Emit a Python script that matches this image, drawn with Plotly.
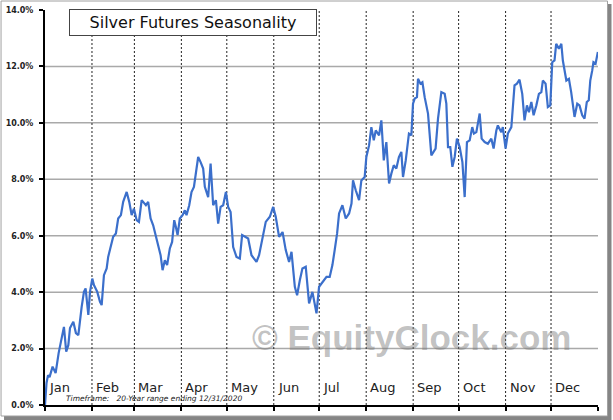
import pandas as pd
import plotly.graph_objects as go

# ---------------- data ----------------
day_offsets = [0, 1, 2, 3, 5, 7, 9, 11, 12.5, 14, 15.4, 16.5, 18.7, 20.4, 22, 24.2, 25.7, 26.8, 28.6, 29.7,
               31.2, 32.3, 34.5, 36.3, 37.4, 38.9, 40.7, 41.7, 43.3, 45, 46.8, 48.3, 50.1, 51.6, 53.9, 55.6,
               57.2, 58.7, 60.5, 62, 63.8, 65.3, 66.6, 68.1, 69.7, 71.4, 73.2, 74.7, 76.3, 77.6, 79.1, 80.6,
               82.4, 83.9, 85.3, 86.4, 87.5, 89, 90.8, 92.3, 93.4, 95.2, 96.7, 98.3, 99.6, 101.1, 102.7, 104.4,
               105.5, 107.7, 109.3, 111, 112.8, 114.3, 115.9, 117.6, 119.4, 120.9, 122.5, 124.2, 126.4, 128.6,
               130.1, 131.9, 134.1, 136.3, 137.8, 139.6, 141.3, 143.6, 145.7, 148.4, 150.6, 152.3, 154.5, 156.8,
               158.9, 161.1, 162.7, 164.9, 166.4, 168.2, 169.9, 172.1, 174.3, 176.5, 179.2, 180.9, 183.5, 185.8,
               187.9, 189.7, 191.2, 192.8, 194.1, 196.3, 198.5, 200.7, 202.3, 203.3, 205.1, 207.3, 208.8, 211,
               212.1, 213.9, 215.4, 217, 218.3, 220.5, 222, 223.6, 225.3, 227.1, 228.6, 230.2, 231.9, 233.6,
               235.2, 236.3, 238.1, 240.2, 241.8, 242.9, 244, 245.5, 246.2, 247.8, 249.1, 250.6, 252.8, 255,
               257.8, 259.4, 261.6, 263.8, 264.9, 266, 267.5, 268.9, 270.4, 271.9, 273.7, 275.5, 277, 278.5,
               280.3, 282, 283.1, 284.7, 286.9, 288.2, 290.2, 292.3, 294.6, 296.1, 297.9, 298.9, 301.2, 302.2,
               304, 305.5, 307.8, 309.9, 311.5, 313.2, 315, 316.5, 318.1, 319.4, 321, 322.5, 324.3, 326,
               327.6, 328.6, 330.4, 331.9, 333.5, 334.8, 336.3, 337.4, 339.2, 340.8, 341.8, 344.1, 345.8, 347.3,
               349.5, 351.3, 352.8, 354.6, 356.1, 357.6, 358.9, 359.9, 361.2, 362, 363.4, 364.9]

seasonal_pct = [0.0, 0.78, 1.06, 0.99, 1.36, 1.13, 1.84, 2.42, 2.77, 1.89, 2.12, 2.73, 2.95, 2.55, 2.48, 3.48,
                4.01, 4.13, 3.19, 4.01, 4.48, 4.25, 4.01, 3.66, 3.54, 4.60, 4.84, 5.25, 5.60, 5.96, 6.08, 6.61,
                6.73, 7.20, 7.55, 7.20, 6.73, 6.96, 6.55, 6.49, 7.26, 7.14, 7.08, 7.20, 6.61, 6.37, 5.96, 5.72,
                5.31, 4.78, 5.13, 4.96, 5.55, 5.78, 6.55, 6.31, 6.02, 6.61, 6.73, 6.90, 6.73, 7.08, 7.55, 7.73,
                8.32, 8.79, 8.61, 8.38, 7.73, 7.37, 8.56, 7.08, 7.26, 6.43, 7.02, 7.08, 7.55, 7.02, 6.84, 5.60,
                5.25, 5.19, 6.02, 5.96, 5.90, 5.31, 5.19, 5.07, 5.31, 5.96, 6.49, 6.67, 7.02, 6.67, 5.96, 6.13,
                5.49, 5.07, 5.43, 4.19, 3.89, 4.42, 4.84, 4.90, 3.60, 4.01, 3.25, 4.19, 4.36, 4.54, 4.54, 4.96,
                5.49, 6.08, 6.79, 7.08, 6.61, 6.79, 7.14, 7.96, 7.61, 7.26, 7.96, 8.08, 8.79, 9.20, 9.85, 9.38,
                9.73, 9.56, 10.09, 8.67, 9.32, 7.85, 8.20, 8.50, 8.38, 8.79, 8.97, 8.08, 8.67, 9.62, 9.56, 10.68,
                10.86, 10.91, 11.56, 11.39, 11.44, 10.91, 10.33, 8.85, 9.09, 10.15, 11.09, 11.03, 10.68, 9.14,
                9.14, 8.44, 8.79, 9.44, 9.14, 8.61, 7.37, 9.32, 9.38, 9.85, 9.62, 9.67, 10.33, 9.44, 9.32, 9.26,
                9.44, 9.09, 9.73, 9.91, 9.67, 9.85, 9.09, 9.62, 9.85, 11.33, 11.39, 11.53, 11.03, 10.09, 10.62,
                10.38, 10.74, 10.27, 10.62, 11.03, 11.09, 11.50, 11.39, 10.56, 10.62, 12.15, 12.21, 12.80, 12.63,
                12.80, 12.21, 11.50, 11.56, 11.09, 10.21, 10.68, 10.62, 10.27, 10.15, 10.74, 10.80, 11.50, 11.86,
                12.15, 12.10, 12.51]

month_labels = ["Jan", "Feb", "Mar", "Apr", "May", "Jun", "Jul", "Aug", "Sep", "Oct", "Nov", "Dec"]
month_starts = ["2021-01-01", "2021-02-01", "2021-03-01", "2021-04-01", "2021-05-01", "2021-06-01",
                "2021-07-01", "2021-08-01", "2021-09-01", "2021-10-01", "2021-11-01", "2021-12-01"]
year_end = "2022-01-01"
y_ticks = [0, 2, 4, 6, 8, 10, 12, 14]
y_tick_labels = ["0.0%", "2.0%", "4.0%", "6.0%", "8.0%", "10.0%", "12.0%", "14.0%"]

title_text = "Silver Futures Seasonality"
timeframe_text = "Timeframe:&nbsp;&nbsp; 20-Year range ending 12/31/2020"
watermark_text = "© EquityClock.com"

# ---------------- layout geometry ----------------
W, H = 613, 420
L, R, T, B = 45, 14.5, 10, 15
PW, PH = W - L - R, H - T - B


def pxx(x):
    return (x - L) / PW


def pxy(y):
    return (H - B - y) / PH


dates = pd.Timestamp("2021-01-01") + pd.to_timedelta(day_offsets, unit="D")

fig = go.Figure()
fig.add_trace(go.Scatter(x=dates, y=seasonal_pct, mode="lines",
                         line=dict(color="#3B6FCB", width=2.2), hoverinfo="skip", showlegend=False))

shapes = []
# shadow + frame
shapes.append(dict(type="rect", xref="paper", yref="paper", x0=pxx(4), x1=pxx(612), y0=pxy(4), y1=pxy(420),
                   fillcolor="#858585", line=dict(width=0), layer="below"))
shapes.append(dict(type="rect", xref="paper", yref="paper", x0=pxx(1), x1=pxx(608), y0=pxy(1), y1=pxy(416),
                   fillcolor="white", line=dict(color="#a0a0a0", width=1), layer="below"))
# horizontal grid lines
for v in y_ticks[1:-1]:
    shapes.append(dict(type="line", xref="paper", yref="y", x0=0, x1=1, y0=v, y1=v,
                       line=dict(color="#a9a9a9", width=1.5), layer="below"))
# month dividers
for d in month_starts[1:]:
    shapes.append(dict(type="line", xref="x", yref="paper", x0=d, x1=d, y0=0, y1=1,
                       line=dict(color="#222222", width=1, dash="2px,2px"), layer="below"))

annotations = []
for lab, d in zip(month_labels, month_starts):
    annotations.append(dict(text=lab, x=d, xref="x", y=pxy(387), yref="paper", xanchor="left",
                            yanchor="middle", xshift=2, showarrow=False,
                            font=dict(family="DejaVu Sans", size=13, color="#222222")))
annotations.append(dict(text="<i>" + timeframe_text + "</i>", x=pxx(64), xref="paper", y=pxy(398.5),
                        yref="paper", xanchor="left", yanchor="middle", showarrow=False,
                        font=dict(family="DejaVu Sans", size=7.5, color="#222222")))
annotations.append(dict(text=watermark_text, x=pxx(573), xref="paper", y=pxy(337), yref="paper",
                        xanchor="right", yanchor="middle", showarrow=False,
                        font=dict(family="Liberation Sans", size=35, color="rgba(120,120,120,0.45)",
                                  weight="bold")))
annotations.append(dict(text=title_text, x=pxx(69), xref="paper", y=pxy(9), yref="paper", xanchor="left",
                        yanchor="top", showarrow=False, width=246, height=25, align="center",
                        valign="middle", bgcolor="white", bordercolor="#444444", borderwidth=1,
                        borderpad=0, font=dict(family="DejaVu Sans", size=16, color="#111111")))

fig.update_layout(
    width=W, height=H,
    margin=dict(l=L, r=R, t=T, b=B, pad=0, autoexpand=False),
    paper_bgcolor="white", plot_bgcolor="rgba(0,0,0,0)",
    showlegend=False,
    shapes=shapes, annotations=annotations,
    xaxis=dict(type="date", range=[month_starts[0], year_end], tickvals=month_starts + [year_end],
               showticklabels=False, ticks="outside", ticklen=4, tickwidth=1.5, tickcolor="black",
               showline=True, linecolor="black", linewidth=2, showgrid=False, zeroline=False,
               automargin=False),
    yaxis=dict(range=[y_ticks[0], y_ticks[-1]], tickvals=y_ticks, ticktext=y_tick_labels,
               ticks="outside", ticklen=4, tickwidth=1.5, tickcolor="black", ticklabelstandoff=4,
               showline=True, linecolor="black", linewidth=2, showgrid=False, zeroline=False,
               automargin=False,
               tickfont=dict(family="DejaVu Sans", size=8, color="#222222", weight="bold")),
)

fig.write_html("out.html", config={"displayModeBar": False},
               post_script="document.body.style.margin='0';document.body.style.padding='0';")
